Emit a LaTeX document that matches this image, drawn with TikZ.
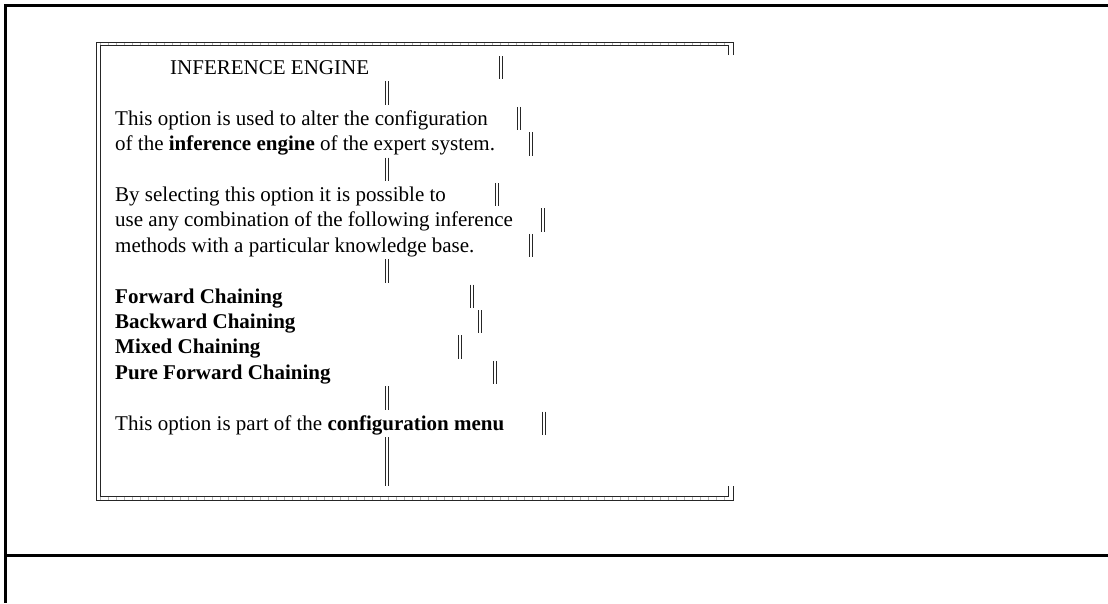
\documentclass[tikz,border=0pt]{standalone}
\usepackage{fontspec}
\setmainfont{Liberation Serif}
% double vertical bar (box-drawing style) centred on x, from y1 to y2
\newcommand\dblbar[3]{%
  \draw[rule] (#1-1.75,#2) -- (#1-1.75,#3) (#1+1.75,#2) -- (#1+1.75,#3);}
\begin{document}
\begin{tikzpicture}[x=1pt,y=-1pt,
  txt/.style={anchor=base west,inner sep=0pt,font=\fontsize{21}{25}\selectfont},
  frame/.style={line width=3pt,black},
  rule/.style={line width=1pt,black!85},
  ticks/.style={line width=4pt,black!30,dash pattern=on 0.6pt off 7.4pt}]
\useasboundingbox (0,0) rectangle (1108,603);

% page frame
\draw[frame] (1108,5.5) -- (5.5,5.5) -- (5.5,603);
\draw[frame] (5.5,555) -- (1108,555);

% panel border: faint character ticks
\draw[ticks] (100,43.75) -- (728,43.75);
\draw[ticks] (100,498.25) -- (728,498.25);
% panel border: outer line
\draw[rule] (733,55) -- (733,42) -- (96,42) -- (96,500) -- (733,500) -- (733,486);
% panel border: inner line
\draw[rule] (728,55) -- (728,45.5) -- (100,45.5) -- (100,496.5) -- (728,496.5) -- (728,486);

% text
\node[txt] (title) at (170,74.5) {INFERENCE ENGINE};
\node[txt] (l1) at (115,125.3) {This option is used to alter the configuration};
\node[txt] (l2) at (115,150.7) {of the \textbf{inference engine} of the expert system.};
\node[txt] (l3) at (115,201.5) {By selecting this option it is possible to};
\node[txt] (l4) at (115,226.9) {use any combination of the following inference};
\node[txt] (l5) at (115,252.3) {methods with a particular knowledge base.};
\node[txt] (fc) at (115,303.1) {\textbf{Forward Chaining}};
\node[txt] (bc) at (115,328.5) {\textbf{Backward Chaining}};
\node[txt] (mc) at (115,353.9) {\textbf{Mixed Chaining}};
\node[txt] (pfc) at (115,379.3) {\textbf{Pure Forward Chaining}};
\node[txt] (menu) at (115,430.1) {This option is part of the \textbf{configuration menu}};

% line-end bars
\dblbar{501}{56}{79.4}
\dblbar{519}{106.8}{130.2}
\dblbar{531}{132.2}{155.6}
\dblbar{497}{183}{206.4}
\dblbar{543}{208.4}{231.8}
\dblbar{531}{233.8}{257.2}
\dblbar{472}{284.6}{308}
\dblbar{480}{310}{333.4}
\dblbar{460}{335.4}{358.8}
\dblbar{495}{360.8}{384.2}
\dblbar{544}{411.6}{435}

% bars on blank lines
\dblbar{387}{81.4}{104.8}
\dblbar{387}{157.6}{181}
\dblbar{387}{259.2}{282.6}
\dblbar{387}{386.2}{409.6}
\dblbar{387}{437}{485.8}
\end{tikzpicture}
\end{document}
